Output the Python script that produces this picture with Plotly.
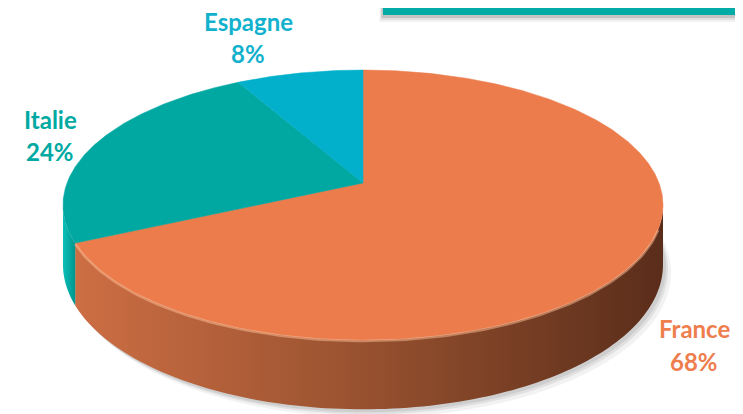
import numpy as np
import plotly.graph_objects as go

# ---- data ----
categories = ["France", "Italie", "Espagne"]
values = [68, 24, 8]
top_colors = ["#EC7C4C", "#00A8A1", "#03B0CC"]
label_colors = ["#EE7E4D", "#00A9A2", "#12B1CD"]
side_scales = [
    [[0, "#CD6E44"], [0.45, "#9C5431"], [1, "#5A2D1A"]],
    [[0, "#0BC0B8"], [1, "#00958E"]],
    [[0, "#05A7C2"], [1, "#03889F"]],
]
# label anchor positions (pixels): name line and percent line
label_pos = {"France": (694, 328, 361), "Italie": (50, 119, 151), "Espagne": (248, 21, 53)}

# ---- geometry (pixel space, perspective projection of a tilted disc) ----
CX, CY = 363, 183
SX, TY, K = 296, 131.4, 0.163
DEPTH = 58
W, H = 743, 414
OFF = 8  # page body margin offset compensation


def proj(theta_deg, drop=False):
    th = np.radians(theta_deg)
    p = np.sin(th)
    q = -np.cos(th)
    w = 1 - K * q
    x = CX + SX * p / w
    y = CY + TY * q / w
    if drop:
        y = y + DEPTH / w
    return x, y


total = sum(values)
bounds = np.concatenate([[0], np.cumsum(values)]) * 360.0 / total
th_right = np.degrees(np.arccos(-K))
th_left = 360 - th_right

fig = go.Figure()

# soft shadow under the disc
for dx, dy, a in [(8, 8, 0.05), (5, 5, 0.07), (3, 3, 0.08)]:
    t = np.linspace(0, 360, 241)
    xs, ys = proj(t, drop=True)
    fig.add_trace(go.Scatter(x=xs + dx, y=ys + dy, fill="toself", mode="none",
                             fillcolor=f"rgba(0,0,0,{a})", hoverinfo="skip"))

# side walls (front visible part only)
for i, cat in enumerate(categories):
    a0, a1 = bounds[i], bounds[i + 1]
    lo, hi = max(a0, th_right), min(a1, th_left)
    if hi <= lo:
        continue
    t = np.linspace(lo, hi, 120)
    xt, yt = proj(t)
    xb, yb = proj(t[::-1], drop=True)
    fig.add_trace(go.Scatter(
        x=np.concatenate([xt, xb, xt[:1]]), y=np.concatenate([yt, yb, yt[:1]]),
        fill="toself", mode="none",
        fillgradient=dict(type="horizontal", colorscale=side_scales[i]),
        hoverinfo="skip"))

# top faces
for i, cat in enumerate(categories):
    a0, a1 = bounds[i], bounds[i + 1]
    t = np.linspace(a0, a1, max(10, int((a1 - a0) * 2)))
    xt, yt = proj(t)
    fig.add_trace(go.Scatter(
        x=np.concatenate([[CX], xt, [CX]]), y=np.concatenate([[CY], yt, [CY]]),
        fill="toself", mode="lines", line=dict(color=top_colors[i], width=0.5),
        fillcolor=top_colors[i], hoverinfo="skip"))

# highlight rim along the front edge
t = np.linspace(th_right + 10, bounds[1], 120)
xt, yt = proj(t)
fig.add_trace(go.Scatter(x=xt, y=yt + 1, mode="lines",
                         line=dict(color="rgba(255,190,150,0.5)", width=2.5), hoverinfo="skip"))

# labels
for i, cat in enumerate(categories):
    x, y1, y2 = label_pos[cat]
    fig.add_annotation(x=x, y=y1, text=f"<b>{cat}</b>", showarrow=False,
                       font=dict(family="Lato", size=24, color=label_colors[i]),
                       xanchor="center", yanchor="middle")
    fig.add_annotation(x=x, y=y2, text=f"<b>{values[i]}%</b>", showarrow=False,
                       font=dict(family="Lato", size=24, color=label_colors[i]),
                       xanchor="center", yanchor="middle")

# title box (cut off at top) with shadow
shapes = []
for off, a in [(7, 0.05), (5, 0.08), (3, 0.12)]:
    shapes.append(dict(type="rect", xref="x", yref="y", x0=383 - off / 2, x1=W + 40,
                       y0=-10, y1=15 + off, fillcolor=f"rgba(0,0,0,{a})", line_width=0, layer="below"))
shapes.append(dict(type="rect", xref="x", yref="y", x0=383, x1=W + 40, y0=-10, y1=15,
                   fillcolor="#00ABA5", line_width=0, layer="above"))

fig.update_layout(
    width=W - OFF, height=H - OFF, margin=dict(l=0, r=0, t=0, b=0),
    paper_bgcolor="white", plot_bgcolor="white", showlegend=False,
    xaxis=dict(range=[OFF, W], visible=False, fixedrange=True),
    yaxis=dict(range=[H, OFF], visible=False, fixedrange=True),
    shapes=shapes,
)

fig.write_html("out.html")
